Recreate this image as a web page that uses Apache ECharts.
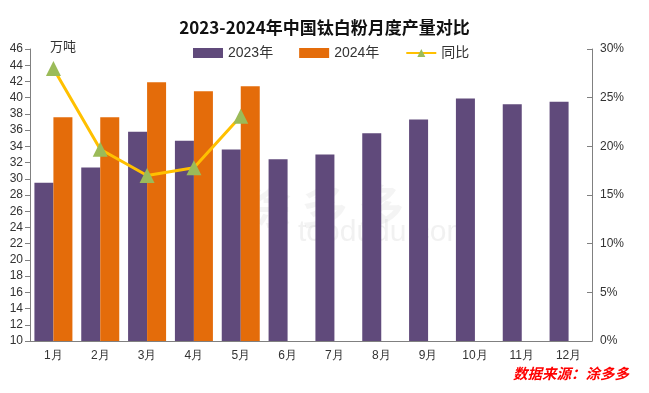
<!DOCTYPE html>
<html><head><meta charset="utf-8">
<script src="https://cdn.jsdelivr.net/npm/echarts@6/dist/echarts.min.js"></script>
<style>html,body{margin:0;padding:0;background:#fff}#c{width:649px;height:393px}</style>
</head><body><div id="c"></div>
<script>
var months = ['1月','2月','3月','4月','5月','6月','7月','8月','9月','10月','11月','12月'];
var prod2023 = [29.5, 31.4, 35.8, 34.7, 33.6, 32.4, 33.0, 35.6, 37.3, 39.9, 39.2, 39.5];
var prod2024 = [37.6, 37.6, 41.9, 40.8, 41.4, null, null, null, null, null, null, null];
var yoy = [28.0, 19.7, 17.0, 17.8, 23.1, null, null, null, null, null, null, null];
var chart = echarts.init(document.getElementById('c'));
var axisColor = '#808080';
var labelFont = {color:'#333', fontSize:12, fontFamily:'Liberation Sans, Arial, sans-serif'};
chart.setOption({
  animation:false,
  title:{text:'2023-2024年中国钛白粉月度产量对比', left:'center', top:14,
    textStyle:{fontSize:17, fontWeight:'bold', color:'#111', fontFamily:'Noto Sans CJK SC'}},
  legend:{top:41, left:188, itemWidth:30, itemHeight:10, itemGap:26,
    textStyle:{fontSize:14, color:'#333', fontFamily:'Liberation Sans, Noto Sans CJK SC'},
    data:[{name:'2023年', icon:'rect'},{name:'2024年', icon:'rect'},{name:'同比'}]},
  grid:{left:30, right:57, top:49, bottom:52},
  graphic:[
    {type:'text', left:'center', top:183, z:0, style:{text:'涂 多 多', fontSize:46, fontWeight:'bold', fill:'rgba(200,200,200,0.2)', fontFamily:'Noto Sans CJK SC'}},
    {type:'text', left:298, top:218, z:0, style:{text:'toodudu.com', fontSize:30, fill:'rgba(200,200,200,0.25)', fontFamily:'Liberation Sans'}},
    {type:'text', left:513, top:366, style:{text:'数据来源：涂多多', fontSize:14.5, fontStyle:'italic', fontWeight:'bold', fill:'#ff0000', fontFamily:'Noto Sans CJK SC'}}
  ],
  xAxis:{type:'category', data:months,
    axisLine:{lineStyle:{color:axisColor}},
    axisTick:{inside:true, length:4, lineStyle:{color:axisColor}},
    axisLabel:Object.assign({margin:9}, labelFont)},
  yAxis:[
    {type:'value', min:10, max:46, interval:2,
     name:'万吨', nameLocation:'end', nameGap:-4,
     nameTextStyle:{align:'left', padding:[0,0,0,20], fontSize:13, color:'#333', fontFamily:'Noto Sans CJK SC'},
     axisLine:{show:true, lineStyle:{color:axisColor}},
     axisTick:{show:true, length:5, lineStyle:{color:axisColor}},
     splitLine:{show:false},
     axisLabel:Object.assign({margin:7}, labelFont)},
    {type:'value', min:0, max:30, interval:5, position:'right',
     axisLine:{show:true, lineStyle:{color:axisColor}},
     axisTick:{show:true, inside:true, length:5, lineStyle:{color:axisColor}},
     splitLine:{show:false},
     axisLabel:Object.assign({margin:8, formatter:'{value}%'}, labelFont)}
  ],
  series:[
    {name:'2023年', type:'bar', data:prod2023, barWidth:19, barGap:'0%', itemStyle:{color:'#604A7B'}, z:2},
    {name:'2024年', type:'bar', data:prod2024, barWidth:19, barGap:'0%', itemStyle:{color:'#E46C0A'}, z:2},
    {name:'同比', type:'line', yAxisIndex:1, data:yoy, symbol:'triangle', symbolSize:15,
     lineStyle:{color:'#FFC000', width:3}, itemStyle:{color:'#9BBB59'}, z:5}
  ]
});
</script></body></html>
